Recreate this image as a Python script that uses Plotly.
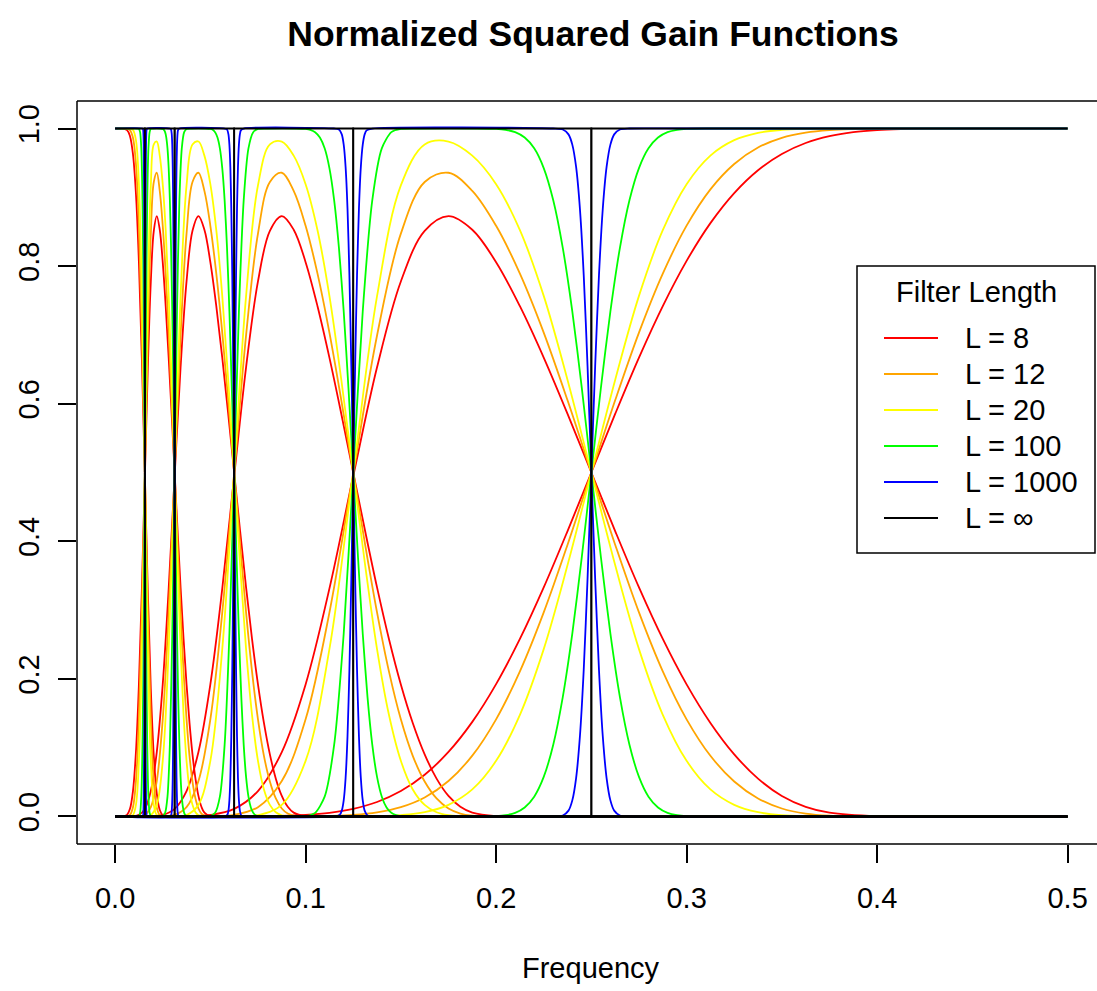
import plotly.graph_objects as go

# ---------------- data ----------------
SERIES_NAMES = ["L = 8", "L = 12", "L = 20", "L = 100", "L = 1000", "L = \u221e"]
SERIES_COLORS = ["#FF0000", "#FFA500", "#FFFF00", "#00FF00", "#0000FF", "#000000"]
SERIES_SMOOTHING = [1.0, 1.0, 1.0, 0.7, 0.7]

# ideal (L = infinity) band edges: V5 | W5 | W4 | W3 | W2 | W1
BAND_EDGES = [0.0, 0.015625, 0.03125, 0.0625, 0.125, 0.25, 0.5]

# ---- short filters (L = 8, 12, 20) ----
FREQ_W1_SMOOTH = [0.0, 0.05, 0.0625, 0.075, 0.0875, 0.1, 0.1125, 0.125, 0.1375, 0.15, 0.1625, 0.175,
                  0.1875, 0.2, 0.2125, 0.225, 0.2375, 0.25, 0.2625, 0.275, 0.2875, 0.3, 0.3125, 0.325,
                  0.3375, 0.35, 0.3625, 0.375, 0.3875, 0.4, 0.4125, 0.425, 0.4375, 0.45, 0.5]
GAIN_W1_L8 = [0.0, 0.0, 0.0001, 0.0003, 0.0009, 0.0023, 0.0053, 0.0111, 0.0211, 0.0370, 0.0606, 0.0938,
              0.1375, 0.1924, 0.2581, 0.3330, 0.4149, 0.5, 0.5851, 0.6670, 0.7419, 0.8076, 0.8625, 0.9062,
              0.9394, 0.9630, 0.9789, 0.9889, 0.9947, 0.9977, 0.9991, 0.9997, 0.9999, 1.0, 1.0]
GAIN_W1_L12 = [0.0, 0.0, 0.0, 0.0, 0.0001, 0.0002, 0.0008, 0.0023, 0.0060, 0.0135, 0.0276, 0.0515,
               0.0884, 0.1412, 0.2109, 0.2966, 0.3951, 0.5, 0.6049, 0.7034, 0.7891, 0.8588, 0.9116, 0.9485,
               0.9724, 0.9865, 0.9940, 0.9977, 0.9992, 0.9998, 1.0, 1.0, 1.0, 1.0, 1.0]
GAIN_W1_L20 = [0.0, 0.0, 0.0, 0.0, 0.0, 0.0, 0.0, 0.0001, 0.0005, 0.0020, 0.0063, 0.0169,
               0.0393, 0.0809, 0.1478, 0.2433, 0.3655, 0.5, 0.6345, 0.7567, 0.8522, 0.9191, 0.9607, 0.9831,
               0.9937, 0.9980, 0.9995, 0.9999, 1.0, 1.0, 1.0, 1.0, 1.0, 1.0, 1.0]

FREQ_W2_SMOOTH = [0.0, 0.025, 0.0375, 0.05, 0.0625, 0.075, 0.0875, 0.1, 0.1125, 0.125, 0.1375, 0.15,
                  0.1625, 0.175, 0.1875, 0.2, 0.2125, 0.225, 0.2375, 0.25, 0.2625, 0.275,
                  0.2875, 0.3, 0.3125, 0.325, 0.3375, 0.35, 0.3625, 0.375, 0.4, 0.45, 0.5]
FREQ_W3_SMOOTH = [0.0, 0.0125, 0.01875, 0.025, 0.03125, 0.0375, 0.04375, 0.05, 0.05625, 0.0625, 0.06875,
                  0.075, 0.08125, 0.0875, 0.09375, 0.1, 0.10625, 0.1125, 0.11875, 0.125,
                  0.13125, 0.1375, 0.14375, 0.15, 0.15625, 0.1625, 0.16875, 0.175, 0.18125, 0.1875,
                  0.2, 0.225, 0.25]
FREQ_W4_SMOOTH = [0.0, 0.00625, 0.009375, 0.0125, 0.015625, 0.01875, 0.021875, 0.025, 0.028125, 0.03125,
                  0.034375, 0.0375, 0.040625, 0.04375, 0.046875, 0.05, 0.053125, 0.05625,
                  0.059375, 0.0625, 0.065625, 0.06875, 0.071875, 0.075, 0.078125, 0.08125, 0.084375,
                  0.0875, 0.090625, 0.09375, 0.1, 0.1125, 0.125]
FREQ_W5_SMOOTH = [0.0, 0.003125, 0.0046875, 0.00625, 0.0078125, 0.009375, 0.0109375, 0.0125, 0.0140625,
                  0.015625, 0.0171875, 0.01875, 0.0203125, 0.021875, 0.0234375, 0.025,
                  0.0265625, 0.028125, 0.0296875, 0.03125, 0.0328125, 0.034375, 0.0359375, 0.0375,
                  0.0390625, 0.040625, 0.0421875, 0.04375, 0.0453125, 0.046875, 0.05, 0.05625, 0.0625]
GAIN_BAND_L8 = [0.0, 0.0, 0.0003, 0.0023, 0.0111, 0.0370, 0.0937, 0.1920, 0.3312, 0.4945, 0.6529, 0.7777,
                0.8513, 0.8727, 0.8529, 0.8057, 0.7417, 0.6670, 0.5851, 0.5, 0.4149, 0.3330,
                0.2581, 0.1920, 0.1360, 0.0903, 0.0550, 0.0299, 0.0141, 0.0056, 0.0004, 0.0, 0.0]
GAIN_BAND_L12 = [0.0, 0.0, 0.0, 0.0002, 0.0023, 0.0135, 0.0515, 0.1412, 0.2964, 0.4988, 0.6992, 0.8472,
                 0.9223, 0.9357, 0.9094, 0.8586, 0.7891, 0.7034, 0.6049, 0.5, 0.3951, 0.2966,
                 0.2109, 0.1412, 0.0882, 0.0508, 0.0262, 0.0116, 0.0042, 0.0012, 0.0, 0.0, 0.0]
GAIN_BAND_L20 = [0.0, 0.0, 0.0, 0.0, 0.0001, 0.0020, 0.0169, 0.0809, 0.2433, 0.5, 0.7563, 0.9173,
                 0.9769, 0.9811, 0.9606, 0.9191, 0.8522, 0.7567, 0.6345, 0.5, 0.3655, 0.2433,
                 0.1478, 0.0809, 0.0393, 0.0169, 0.0062, 0.0018, 0.0004, 0.0001, 0.0, 0.0, 0.0]

FREQ_V5_SMOOTH = [0.0, 0.003125, 0.00625, 0.0078125, 0.009375, 0.0109375, 0.0125, 0.0140625, 0.015625,
                  0.0171875, 0.01875, 0.0203125, 0.021875, 0.0234375, 0.025, 0.028125, 0.03125]
GAIN_V5_L8 = [1.0, 1.0, 0.9977, 0.9889, 0.9627, 0.9054, 0.8057, 0.6634, 0.4944, 0.3260, 0.1853, 0.0881,
              0.0335, 0.0096, 0.0019, 0.0, 0.0]
GAIN_V5_L12 = [1.0, 1.0, 0.9998, 0.9977, 0.9865, 0.9485, 0.8586, 0.7028, 0.4988, 0.2949, 0.1393, 0.0501,
               0.0128, 0.0021, 0.0002, 0.0, 0.0]
GAIN_V5_L20 = [1.0, 1.0, 1.0, 0.9999, 0.9980, 0.9831, 0.9191, 0.7567, 0.5, 0.2432, 0.0807, 0.0168,
               0.0020, 0.0001, 0.0, 0.0, 0.0]

# ---- L = 100 ----
FREQ_W1_L100 = [0.0, 0.15, 0.19, 0.2, 0.205, 0.21, 0.215, 0.22, 0.225, 0.23, 0.235, 0.24, 0.245, 0.25,
                0.255, 0.26, 0.265, 0.27, 0.275, 0.28, 0.285, 0.29, 0.295, 0.3, 0.31, 0.35, 0.5]
GAIN_W1_L100 = [0.0, 0.0, 0.0, 0.0006, 0.0019, 0.0053, 0.0131, 0.0288, 0.0575, 0.1044, 0.1735, 0.2657,
                0.3772, 0.5, 0.6228, 0.7343, 0.8265, 0.8956, 0.9425, 0.9712, 0.9869, 0.9947, 0.9981,
                0.9994, 1.0, 1.0, 1.0]
FREQ_W2_L100 = [0.0, 0.09, 0.1, 0.105, 0.11, 0.115, 0.12, 0.125, 0.13, 0.135, 0.14, 0.145, 0.15, 0.16,
                0.19, 0.2, 0.205, 0.21, 0.215, 0.22, 0.225, 0.23, 0.235, 0.24, 0.245, 0.25, 0.255, 0.26,
                0.265, 0.27, 0.275, 0.28, 0.285, 0.29, 0.295, 0.3, 0.31, 0.35, 0.5]
FREQ_W3_L100 = [0.0, 0.045, 0.05, 0.0525, 0.055, 0.0575, 0.06, 0.0625, 0.065, 0.0675, 0.07, 0.0725, 0.075,
                0.08, 0.095, 0.1, 0.1025, 0.105, 0.1075, 0.11, 0.1125, 0.115, 0.1175, 0.12, 0.1225, 0.125,
                0.1275, 0.13, 0.1325, 0.135, 0.1375, 0.14, 0.1425, 0.145, 0.1475, 0.15, 0.155, 0.175, 0.25]
FREQ_W4_L100 = [0.0, 0.0225, 0.025, 0.02625, 0.0275, 0.02875, 0.03, 0.03125, 0.0325, 0.03375, 0.035,
                0.03625, 0.0375, 0.04, 0.0475, 0.05, 0.05125, 0.0525, 0.05375, 0.055, 0.05625, 0.0575,
                0.05875, 0.06, 0.06125, 0.0625, 0.06375, 0.065, 0.06625, 0.0675, 0.06875, 0.07, 0.07125,
                0.0725, 0.07375, 0.075, 0.0775, 0.0875, 0.125]
FREQ_W5_L100 = [0.0, 0.01125, 0.0125, 0.013125, 0.01375, 0.014375, 0.015, 0.015625, 0.01625, 0.016875,
                0.0175, 0.018125, 0.01875, 0.02, 0.02375, 0.025, 0.025625, 0.02625, 0.026875, 0.0275,
                0.028125, 0.02875, 0.029375, 0.03, 0.030625, 0.03125, 0.031875, 0.0325, 0.033125,
                0.03375, 0.034375, 0.035, 0.035625, 0.03625, 0.036875, 0.0375, 0.03875, 0.04375, 0.0625]
GAIN_BAND_L100 = [0.0, 0.0, 0.0006, 0.0053, 0.0288, 0.1044, 0.2657, 0.5, 0.7343, 0.8956, 0.9712, 0.9947,
                  0.9994, 1.0, 1.0, 0.9994, 0.9981, 0.9947, 0.9869, 0.9712, 0.9425, 0.8956, 0.8265,
                  0.7343, 0.6228, 0.5, 0.3772, 0.2657, 0.1735, 0.1044, 0.0575, 0.0288, 0.0131, 0.0053,
                  0.0019, 0.0006, 0.0, 0.0, 0.0]
FREQ_V5_L100 = [0.0, 0.011875, 0.0125, 0.013125, 0.01375, 0.014375, 0.015, 0.015625, 0.01625, 0.016875,
                0.0175, 0.018125, 0.01875, 0.019375, 0.03125]
GAIN_V5_L100 = [1.0, 1.0, 0.9994, 0.9947, 0.9712, 0.8956, 0.7343, 0.5, 0.2657, 0.1044, 0.0288, 0.0053,
                0.0006, 0.0, 0.0]

# ---- L = 1000 ----
FREQ_W1_L1000 = [0.0, 0.2, 0.23, 0.235, 0.238, 0.24, 0.242, 0.244, 0.246, 0.248, 0.25, 0.252, 0.254,
                 0.256, 0.258, 0.26, 0.262, 0.265, 0.27, 0.3, 0.5]
GAIN_W1_L1000 = [0.0, 0.0, 0.0, 0.0014, 0.0085, 0.0234, 0.0559, 0.1166, 0.2134, 0.3456, 0.5, 0.6544,
                 0.7866, 0.8834, 0.9441, 0.9766, 0.9915, 0.9986, 1.0, 1.0, 1.0]
FREQ_W2_L1000 = [0.0, 0.115, 0.118, 0.119, 0.12, 0.121, 0.122, 0.123, 0.124, 0.125, 0.126, 0.127, 0.128,
                 0.129, 0.13, 0.131, 0.132, 0.135, 0.23, 0.235, 0.238, 0.24, 0.242, 0.244, 0.246, 0.248,
                 0.25, 0.252, 0.254, 0.256, 0.258, 0.26, 0.262, 0.265, 0.27, 0.5]
FREQ_W3_L1000 = [0.0, 0.0575, 0.059, 0.0595, 0.06, 0.0605, 0.061, 0.0615, 0.062, 0.0625, 0.063, 0.0635,
                 0.064, 0.0645, 0.065, 0.0655, 0.066, 0.0675, 0.115, 0.1175, 0.119, 0.12, 0.121, 0.122,
                 0.123, 0.124, 0.125, 0.126, 0.127, 0.128, 0.129, 0.13, 0.131, 0.1325, 0.135, 0.25]
FREQ_W4_L1000 = [0.0, 0.02875, 0.0295, 0.02975, 0.03, 0.03025, 0.0305, 0.03075, 0.031, 0.03125, 0.0315,
                 0.03175, 0.032, 0.03225, 0.0325, 0.03275, 0.033, 0.03375, 0.0575, 0.05875, 0.0595,
                 0.06, 0.0605, 0.061, 0.0615, 0.062, 0.0625, 0.063, 0.0635, 0.064, 0.0645, 0.065,
                 0.0655, 0.06625, 0.0675, 0.125]
FREQ_W5_L1000 = [0.0, 0.014375, 0.01475, 0.014875, 0.015, 0.015125, 0.01525, 0.015375, 0.0155, 0.015625,
                 0.01575, 0.015875, 0.016, 0.016125, 0.01625, 0.016375, 0.0165, 0.016875, 0.02875,
                 0.029375, 0.02975, 0.03, 0.03025, 0.0305, 0.03075, 0.031, 0.03125, 0.0315, 0.03175,
                 0.032, 0.03225, 0.0325, 0.03275, 0.033125, 0.03375, 0.0625]
GAIN_BAND_L1000 = [0.0, 0.0, 0.0027, 0.0085, 0.0234, 0.0559, 0.1166, 0.2134, 0.3456, 0.5, 0.6544, 0.7866,
                   0.8834, 0.9441, 0.9766, 0.9915, 0.9973, 1.0, 1.0, 0.9986, 0.9915, 0.9766, 0.9441,
                   0.8834, 0.7866, 0.6544, 0.5, 0.3456, 0.2134, 0.1166, 0.0559, 0.0234, 0.0085, 0.0014,
                   0.0, 0.0]
FREQ_V5_L1000 = [0.0, 0.014375, 0.0146875, 0.015, 0.01525, 0.0155, 0.015625, 0.01575, 0.016, 0.01625,
                 0.0165625, 0.016875, 0.03125]
GAIN_V5_L1000 = [1.0, 1.0, 0.9986, 0.9766, 0.8834, 0.6544, 0.5, 0.3456, 0.1166, 0.0234, 0.0014, 0.0, 0.0]

X_TICKS = [0.0, 0.1, 0.2, 0.3, 0.4, 0.5]
Y_TICKS = [0.0, 0.2, 0.4, 0.6, 0.8, 1.0]

# table of curves for each finite filter length (built from the arrays above)
CURVES = {
    "L = 8": [(FREQ_W1_SMOOTH, GAIN_W1_L8), (FREQ_W2_SMOOTH, GAIN_BAND_L8), (FREQ_W3_SMOOTH, GAIN_BAND_L8),
              (FREQ_W4_SMOOTH, GAIN_BAND_L8), (FREQ_W5_SMOOTH, GAIN_BAND_L8), (FREQ_V5_SMOOTH, GAIN_V5_L8)],
    "L = 12": [(FREQ_W1_SMOOTH, GAIN_W1_L12), (FREQ_W2_SMOOTH, GAIN_BAND_L12), (FREQ_W3_SMOOTH, GAIN_BAND_L12),
               (FREQ_W4_SMOOTH, GAIN_BAND_L12), (FREQ_W5_SMOOTH, GAIN_BAND_L12), (FREQ_V5_SMOOTH, GAIN_V5_L12)],
    "L = 20": [(FREQ_W1_SMOOTH, GAIN_W1_L20), (FREQ_W2_SMOOTH, GAIN_BAND_L20), (FREQ_W3_SMOOTH, GAIN_BAND_L20),
               (FREQ_W4_SMOOTH, GAIN_BAND_L20), (FREQ_W5_SMOOTH, GAIN_BAND_L20), (FREQ_V5_SMOOTH, GAIN_V5_L20)],
    "L = 100": [(FREQ_W1_L100, GAIN_W1_L100), (FREQ_W2_L100, GAIN_BAND_L100), (FREQ_W3_L100, GAIN_BAND_L100),
                (FREQ_W4_L100, GAIN_BAND_L100), (FREQ_W5_L100, GAIN_BAND_L100), (FREQ_V5_L100, GAIN_V5_L100)],
    "L = 1000": [(FREQ_W1_L1000, GAIN_W1_L1000), (FREQ_W2_L1000, GAIN_BAND_L1000),
                 (FREQ_W3_L1000, GAIN_BAND_L1000), (FREQ_W4_L1000, GAIN_BAND_L1000),
                 (FREQ_W5_L1000, GAIN_BAND_L1000), (FREQ_V5_L1000, GAIN_V5_L1000)],
}

# ---------------- layout constants (pixels) ----------------
W, H = 1097, 991
PL, PT, PW, PH = 77, 101, 1020, 743
FONT = "Liberation Sans, Arial, Helvetica, sans-serif"


def pxx(x):
    return (x - PL) / PW


def pxy(y):
    return 1 - (y - PT) / PH


fig = go.Figure()

for name, color, smooth in zip(SERIES_NAMES[:5], SERIES_COLORS[:5], SERIES_SMOOTHING):
    for fx, gy in CURVES[name]:
        fig.add_trace(go.Scatter(
            x=fx, y=gy, mode="lines", name=name, legendgroup=name, showlegend=False,
            line=dict(color=color, width=1.8, shape="spline", smoothing=smooth),
            hoverinfo="skip"))

# ideal band-pass filters (L = infinity)
first, last = BAND_EDGES[0], BAND_EDGES[-1]
for lo, hi in zip(BAND_EDGES[:-1], BAND_EDGES[1:]):
    xs, ys = [], []
    if lo == first:
        xs += [lo]
        ys += [1]
    else:
        xs += [first, lo, lo]
        ys += [0, 0, 1]
    if hi == last:
        xs += [hi]
        ys += [1]
    else:
        xs += [hi, hi, last]
        ys += [1, 0, 0]
    fig.add_trace(go.Scatter(x=xs, y=ys, mode="lines", name=SERIES_NAMES[5], showlegend=False,
                             line=dict(color=SERIES_COLORS[5], width=1.8), hoverinfo="skip"))

shapes = [
    # plot frame (right side falls outside the page, as in the reference)
    dict(type="line", xref="paper", yref="paper", x0=0, x1=1.02, y0=1, y1=1,
         line=dict(color="black", width=1.5)),
    dict(type="line", xref="paper", yref="paper", x0=0, x1=1.02, y0=0, y1=0,
         line=dict(color="black", width=1.5)),
    dict(type="line", xref="paper", yref="paper", x0=0, x1=0, y0=0, y1=1,
         line=dict(color="black", width=1.5)),
    # legend box
    dict(type="rect", xref="paper", yref="paper", x0=pxx(857), x1=pxx(1095), y0=pxy(553), y1=pxy(266),
         line=dict(color="black", width=1.5), fillcolor="white", layer="above"),
]
annotations = [
    dict(text="Filter Length", xref="paper", yref="paper", x=pxx(976), y=pxy(292.5),
         xanchor="center", yanchor="middle", showarrow=False, font=dict(family=FONT, size=29, color="black")),
    dict(text="Frequency", xref="paper", yref="paper", x=pxx(591), y=pxy(968),
         xanchor="center", yanchor="middle", showarrow=False, font=dict(family=FONT, size=29, color="black")),
]
entry_y = [338, 374, 410, 446, 482, 518]
for name, color, yy in zip(SERIES_NAMES, SERIES_COLORS, entry_y):
    shapes.append(dict(type="line", xref="paper", yref="paper", x0=pxx(884), x1=pxx(938),
                       y0=pxy(yy), y1=pxy(yy), line=dict(color=color, width=1.8), layer="above"))
    annotations.append(dict(text=name, xref="paper", yref="paper", x=pxx(963), y=pxy(yy),
                            xanchor="left", yanchor="middle", showarrow=False,
                            font=dict(family=FONT, size=29, color="black")))

fig.update_layout(
    width=W, height=H,
    margin=dict(l=PL, r=W - PL - PW, t=PT, b=H - PT - PH, pad=0),
    paper_bgcolor="white", plot_bgcolor="white",
    showlegend=False,
    font=dict(family=FONT, size=29, color="black"),
    title=dict(text="<b>Normalized Squared Gain Functions</b>", x=pxx(593), xref="paper",
               y=1 - 33.7 / H, yref="container", xanchor="center", yanchor="middle",
               font=dict(family=FONT, size=35.5, color="black")),
    xaxis=dict(range=[-0.02, -0.02 + PW / 1905.0], tickvals=X_TICKS, tickformat=".1f",
               ticks="outside", ticklen=18, tickwidth=1.5, tickcolor="black", ticklabelstandoff=10,
               showgrid=False, zeroline=False, showline=False,
               tickfont=dict(family=FONT, size=29, color="black")),
    yaxis=dict(range=[-0.04, 1.04], tickvals=Y_TICKS, tickformat=".1f", tickangle=-90,
               ticks="outside", ticklen=18, tickwidth=1.5, tickcolor="black", ticklabelstandoff=7,
               showgrid=False, zeroline=False, showline=False,
               tickfont=dict(family=FONT, size=29, color="black")),
    shapes=shapes,
    annotations=annotations,
)

fig.write_html("out.html", config={"displayModeBar": False})
